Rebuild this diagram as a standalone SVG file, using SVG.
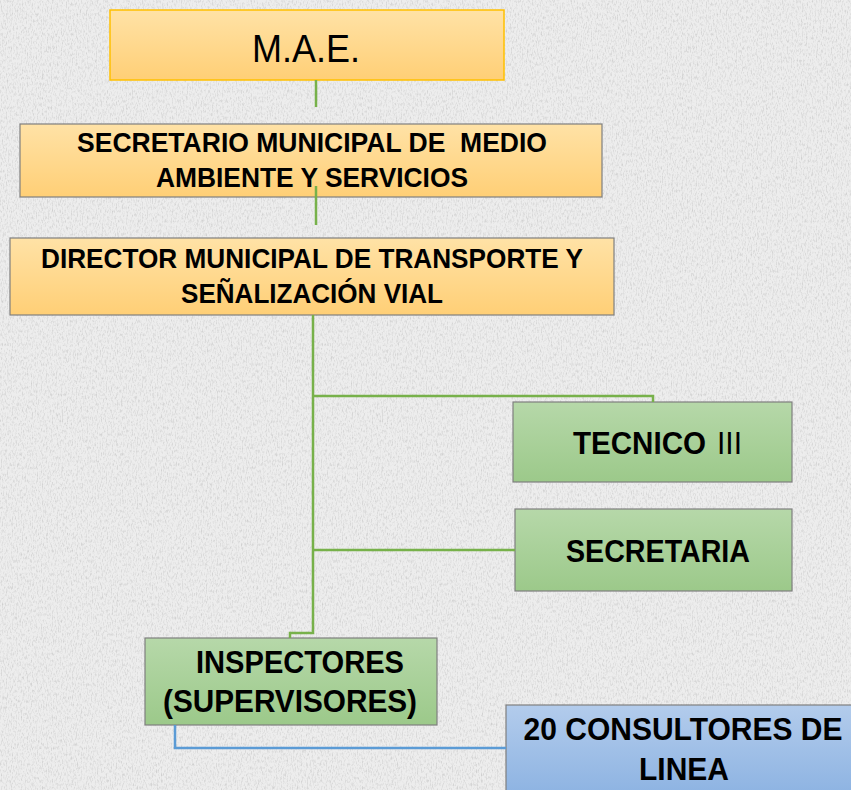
<svg xmlns="http://www.w3.org/2000/svg" width="851" height="790" viewBox="0 0 851 790">
  <defs>
    <filter id="paper" x="0" y="0" width="100%" height="100%">
      <feTurbulence type="fractalNoise" baseFrequency="0.8 0.3" numOctaves="3" seed="4" result="n"/>
      <feColorMatrix type="matrix" values="0 0 0 0 0.5  0 0 0 0 0.5  0 0 0 0 0.5  0 0 0 -2.2 1.2" />
    </filter>
    <linearGradient id="gOr" x1="0" y1="0" x2="0" y2="1">
      <stop offset="0" stop-color="#FFE2A6"/>
      <stop offset="1" stop-color="#FFCF76"/>
    </linearGradient>
    <linearGradient id="gGr" x1="0" y1="0" x2="0" y2="1">
      <stop offset="0" stop-color="#B6D8A9"/>
      <stop offset="1" stop-color="#9CC98A"/>
    </linearGradient>
    <linearGradient id="gBl" x1="0" y1="0" x2="0" y2="1">
      <stop offset="0" stop-color="#B3CCEC"/>
      <stop offset="1" stop-color="#8DB3E2"/>
    </linearGradient>
  </defs>
  <style>
    .box { stroke: #7F7F7F; stroke-width: 1.2; }
    .t { font-family: "Liberation Sans", "DejaVu Sans", sans-serif; font-weight: bold; fill: #000; }
    .c { fill: none; stroke-width: 2.5; }
    .gl { stroke: #77B14A; }
    .bl { stroke: #5B9BD5; }
  </style>
  <rect width="851" height="790" fill="#EDEDED"/>
  <rect width="851" height="790" filter="url(#paper)" opacity="0.6"/>

  <g id="mae">
    <rect x="110" y="10" width="394" height="70" fill="url(#gOr)" stroke="#FFC000" stroke-width="1.5"/>
    <text x="306" y="62" text-anchor="middle" font-family="'Liberation Sans', sans-serif" font-size="39" textLength="108" lengthAdjust="spacingAndGlyphs">M.A.E.</text>
  </g>

  <g id="secretario">
    <rect class="box" x="20" y="124" width="582" height="73" fill="url(#gOr)"/>
    <text class="t" x="312" y="152" text-anchor="middle" font-size="28" textLength="470" lengthAdjust="spacingAndGlyphs" xml:space="preserve">SECRETARIO MUNICIPAL DE  MEDIO</text>
    <text class="t" x="312" y="187" text-anchor="middle" font-size="28" textLength="312" lengthAdjust="spacingAndGlyphs">AMBIENTE Y SERVICIOS</text>
  </g>

  <g id="director">
    <rect class="box" x="10" y="238" width="604" height="77" fill="url(#gOr)"/>
    <text class="t" x="312" y="268" text-anchor="middle" font-size="28" textLength="542" lengthAdjust="spacingAndGlyphs">DIRECTOR MUNICIPAL DE TRANSPORTE Y</text>
    <text class="t" x="312" y="303" text-anchor="middle" font-size="28" textLength="262" lengthAdjust="spacingAndGlyphs">SEÑALIZACIÓN VIAL</text>
  </g>

  <g id="tecnico">
    <rect class="box" x="513" y="402" width="279" height="80" fill="url(#gGr)"/>
    <text class="t" x="573" y="454" font-size="31" textLength="133" lengthAdjust="spacingAndGlyphs">TECNICO</text>
    <text x="717" y="454" font-family="'Liberation Sans', sans-serif" font-size="31" textLength="25" lengthAdjust="spacingAndGlyphs">III</text>
  </g>

  <g id="secretaria">
    <rect class="box" x="515" y="509" width="277" height="82" fill="url(#gGr)"/>
    <text class="t" x="658" y="562" text-anchor="middle" font-size="31" textLength="184" lengthAdjust="spacingAndGlyphs">SECRETARIA</text>
  </g>

  <g id="inspectores">
    <rect class="box" x="145" y="638" width="292" height="87" fill="url(#gGr)"/>
    <text class="t" x="300" y="673" text-anchor="middle" font-size="32" textLength="208" lengthAdjust="spacingAndGlyphs">INSPECTORES</text>
    <text class="t" x="290" y="712" text-anchor="middle" font-size="32" textLength="254" lengthAdjust="spacingAndGlyphs">(SUPERVISORES)</text>
  </g>

  <g id="consultores">
    <rect class="box" x="506" y="705" width="350" height="90" fill="url(#gBl)"/>
    <text class="t" x="683" y="740" text-anchor="middle" font-size="32" textLength="319" lengthAdjust="spacingAndGlyphs">20 CONSULTORES DE</text>
    <text class="t" x="684" y="780" text-anchor="middle" font-size="32" textLength="90" lengthAdjust="spacingAndGlyphs">LINEA</text>
  </g>

  <g id="connectors">
    <line class="c gl" x1="316" y1="80" x2="316" y2="107"/>
    <line class="c gl" x1="316" y1="186" x2="316" y2="225"/>
    <polyline class="c gl" points="313,315 313,633 290,633 290,638"/>
    <polyline class="c gl" points="313,396 653,396 653,402"/>
    <line class="c gl" x1="313" y1="550" x2="515" y2="550"/>
    <polyline class="c bl" points="175,725 175,748 506,748"/>
  </g>
</svg>
